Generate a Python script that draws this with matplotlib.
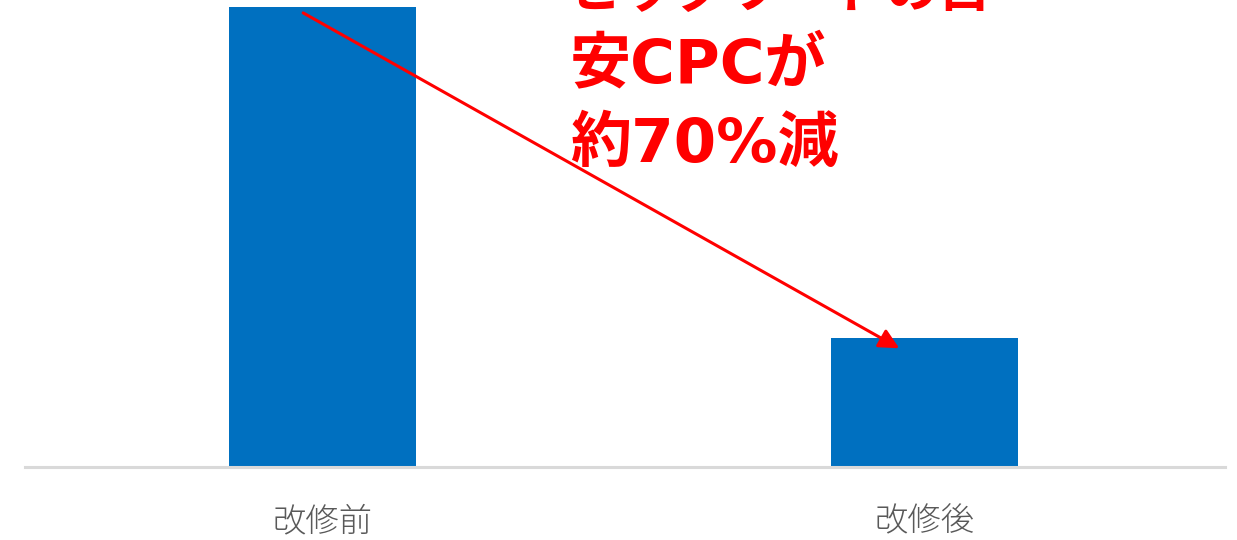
import matplotlib
matplotlib.use("Agg")
import matplotlib.pyplot as plt

plt.rcParams['font.family'] = ['Noto Sans CJK JP', 'DejaVu Sans']

categories = ["改修前", "改修後"]
values = [100, 28]
headline = ["ビッグワードの目", "安CPCが", "約70%減"]

W, H = 1237, 540
fig = plt.figure(figsize=(W / 100, H / 100), dpi=100)
ax = fig.add_axes([25 / W, (H - 467) / H, 1200 / W, 467 / H])

x = list(range(len(categories)))
ax.bar(x, values, width=0.312, color="#0070c0", zorder=2)
ax.set_xlim(-0.494, 1.499)
ax.set_ylim(0, 101.5)
ax.set_xticks(x)
ax.set_xticklabels(categories, fontsize=24, color="#595959", fontweight="light")
ax.tick_params(axis="x", length=0, pad=27)
ax.set_yticks([])
for s in ["top", "right", "left"]:
    ax.spines[s].set_visible(False)
ax.spines["bottom"].set_color("#d9d9d9")
ax.spines["bottom"].set_linewidth(2.2)
ax.spines["bottom"].set_zorder(3)

ax.annotate("", xy=(x[1] - 0.042, values[1] - 2.2), xytext=(x[0] - 0.032, values[0] - 1.3),
            arrowprops=dict(arrowstyle="-|>", color="#ff0000", lw=2.2,
                            mutation_scale=30, shrinkA=0, shrinkB=0), zorder=5)

mixed = ['DejaVu Sans', 'Noto Sans CJK JP']
specs = [(headline[0], -8, 38), (headline[1], 66, 44), (headline[2], 145, 44)]
for line, yp, fs in specs:
    fig.text(570 / W, 1 - yp / H, line, fontsize=fs, fontweight="bold", color="#ff0000",
             ha="left", va="center", family=mixed)

fig.savefig("out.png", dpi=100)
